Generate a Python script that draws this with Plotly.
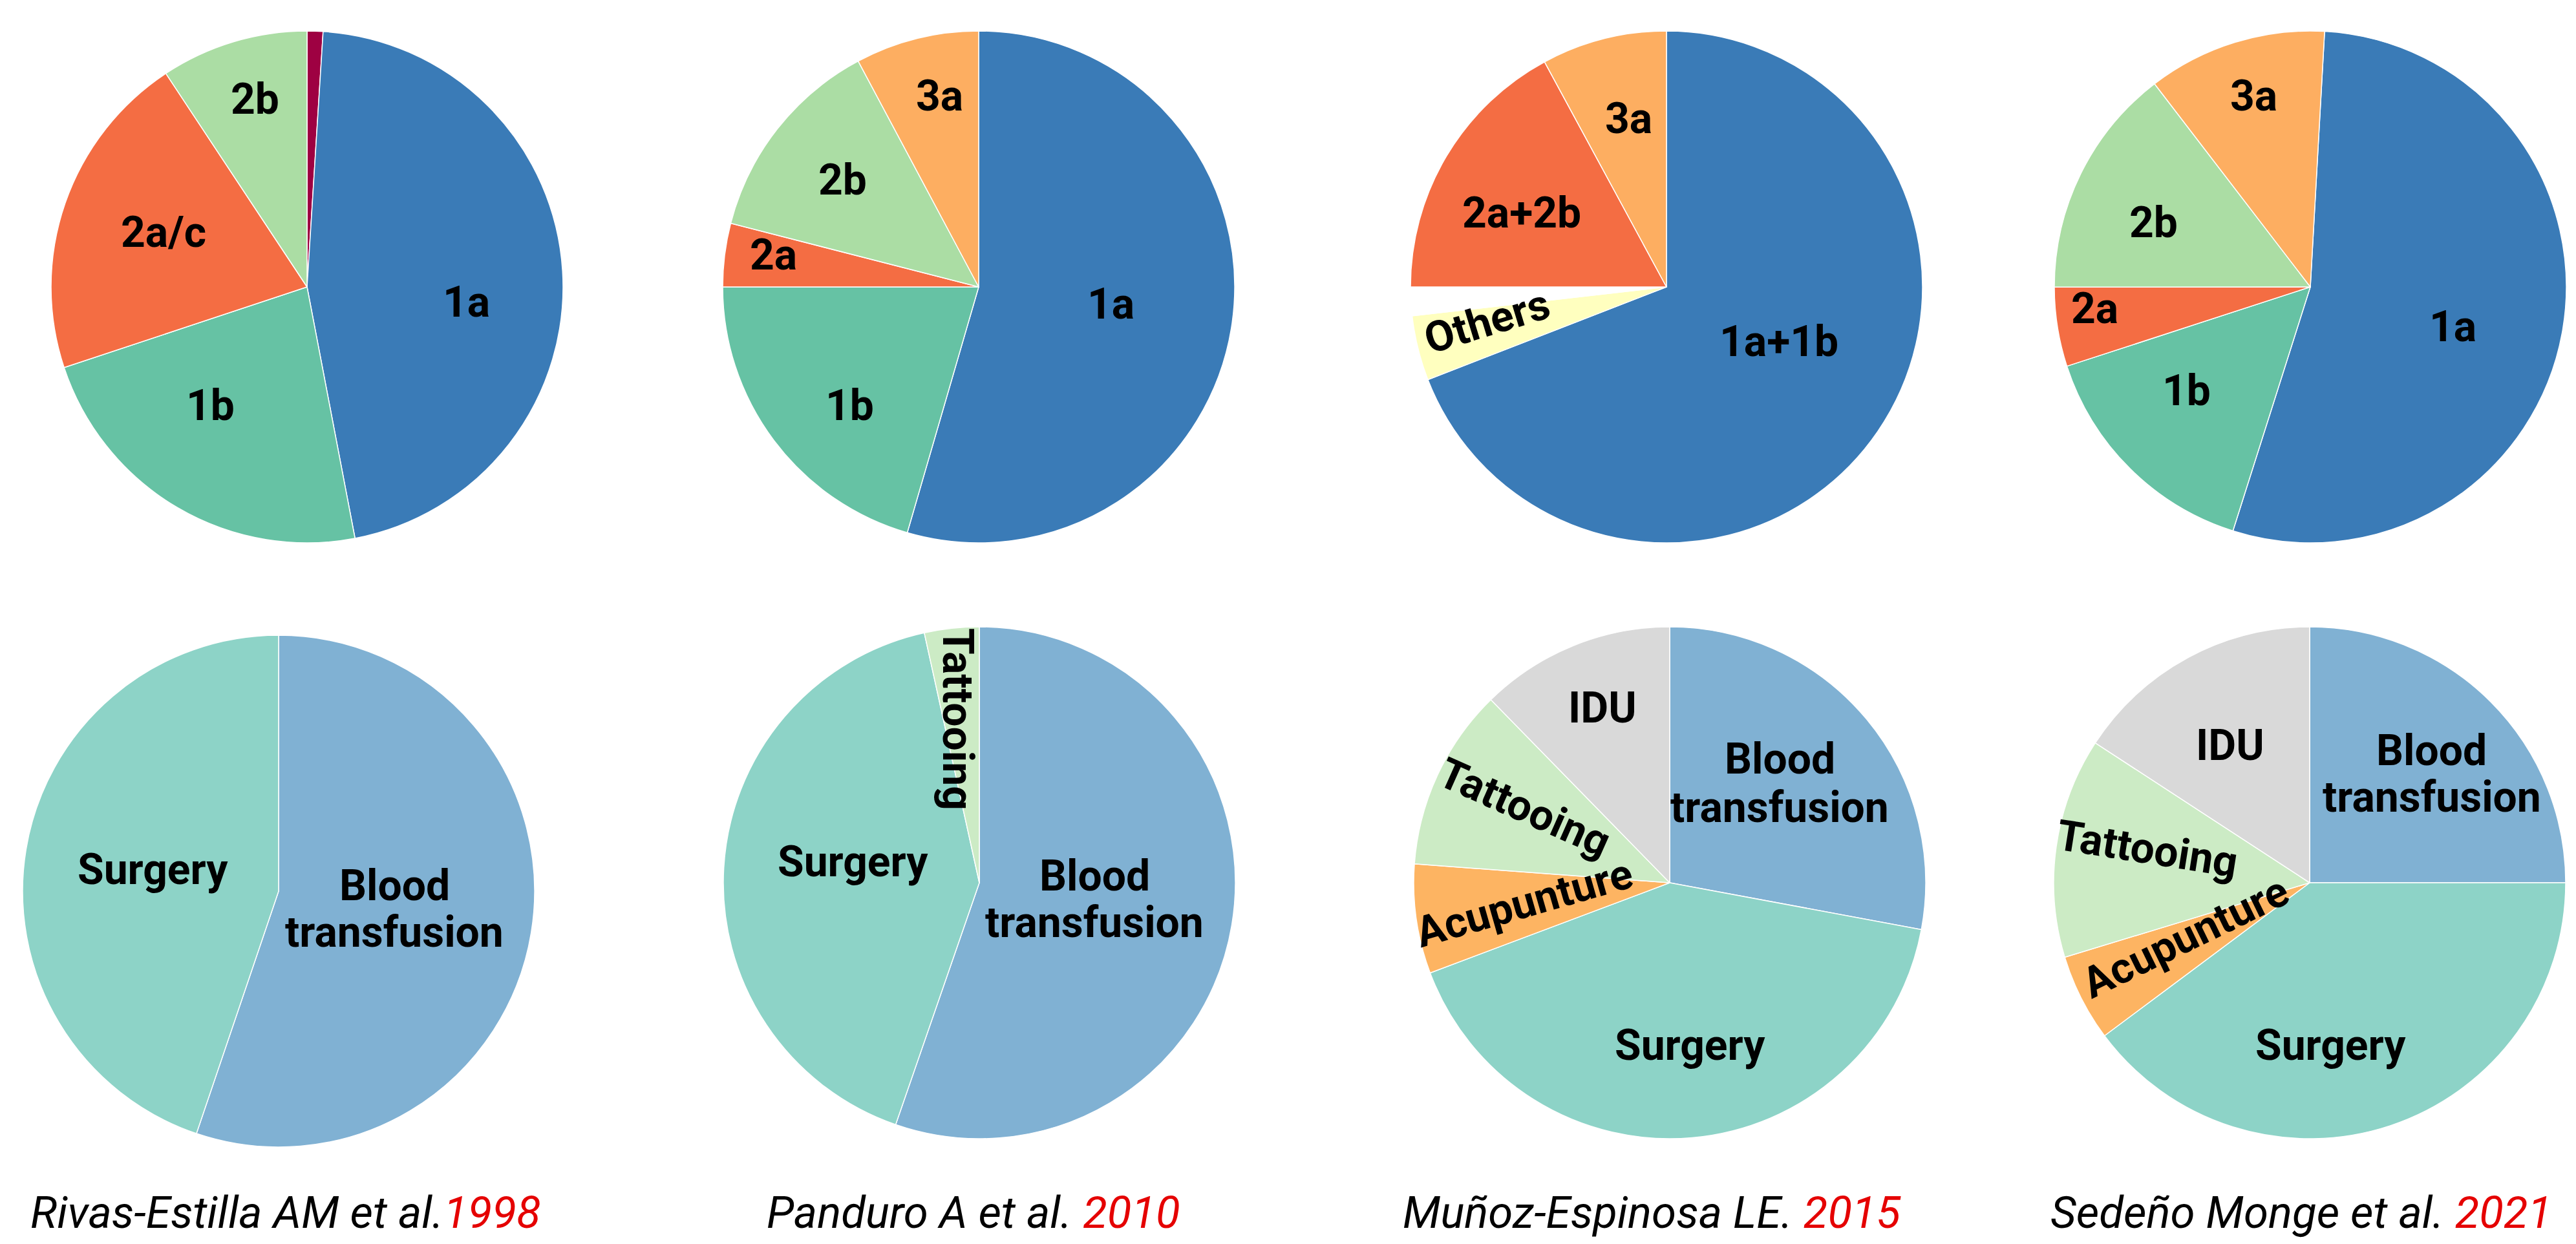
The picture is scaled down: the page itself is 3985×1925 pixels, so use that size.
import plotly.graph_objects as go

W, H = 3985, 1925

# ---------------- data (percent shares) ----------------
geno_labels_1998 = ["Other", "1a", "1b", "2a/c", "2b"]
geno_values_1998 = [1.0, 46.0, 22.9, 20.8, 9.3]

geno_labels_2010 = ["1a", "1b", "2a", "2b", "3a"]
geno_values_2010 = [54.5, 20.5, 4.0, 13.2, 7.8]

geno_labels_2015 = ["1a+1b", "Others", "Unassigned", "2a+2b", "3a"]
geno_values_2015 = [69.1, 4.1, 1.8, 17.1, 7.9]

geno_labels_2021 = ["1a", "1b", "2a", "2b", "3a"]
geno_values_2021 = [54.0, 15.1, 5.0, 14.6, 11.3]

risk_labels_1998 = ["Blood transfusion", "Surgery"]
risk_values_1998 = [55.2, 44.8]

risk_labels_2010 = ["Blood transfusion", "Surgery", "Tattooing"]
risk_values_2010 = [55.3, 41.25, 3.45]

risk_labels_2015 = ["Blood transfusion", "Surgery", "Acupunture", "Tattooing", "IDU"]
risk_values_2015 = [27.9, 41.3, 6.9, 11.5, 12.3]

risk_labels_2021 = ["Blood transfusion", "Surgery", "Acupunture", "Tattooing", "IDU"]
risk_values_2021 = [25.0, 39.8, 5.5, 13.9, 15.8]

study_names = ["Rivas-Estilla AM et al.", "Panduro A et al. ", "Muñoz-Espinosa LE. ", "Sedeño Monge et al. "]
study_years = ["1998", "2010", "2015", "2021"]

# ---------------- styles ----------------
geno_colors = {
    "Other": "#9e0142", "1a": "#3a7bb7", "1b": "#66c2a4", "2a/c": "#f46d43",
    "2a": "#f46d43", "2a+2b": "#f46d43", "2b": "#abdda4", "3a": "#fdae61",
    "Others": "#ffffbf", "1a+1b": "#3a7bb7", "Unassigned": "#ffffff",
}
risk_colors = {
    "Blood transfusion": "#80b1d3", "Surgery": "#8dd3c7", "Tattooing": "#ccebc5",
    "Acupunture": "#fdb462", "IDU": "#d9d9d9",
}

R = 396
pies = [
    # (labels, values, colors, center px, rotation)
    (geno_labels_1998, geno_values_1998, geno_colors, (467, 436), 0),
    (geno_labels_2010, geno_values_2010, geno_colors, (1506, 436), 0),
    (geno_labels_2015, geno_values_2015, geno_colors, (2570, 436), 0),
    (geno_labels_2021, geno_values_2021, geno_colors, (3566, 436), 3.2),
    (risk_labels_1998, risk_values_1998, risk_colors, (423, 1371), 0),
    (risk_labels_2010, risk_values_2010, risk_colors, (1507, 1358), 0),
    (risk_labels_2015, risk_values_2015, risk_colors, (2575, 1358), 0),
    (risk_labels_2021, risk_values_2021, risk_colors, (3565, 1358), 0),
]

fig = go.Figure()
for labels, values, cmap, (cx, cy), rot in pies:
    fig.add_trace(go.Pie(
        labels=labels, values=values, sort=False, direction="clockwise",
        rotation=rot, textinfo="none", hoverinfo="label+percent",
        marker=dict(colors=[cmap[l] for l in labels], line=dict(color="white", width=1.5)),
        domain=dict(x=[(cx - R) / W, (cx + R) / W], y=[1 - (cy + R) / H, 1 - (cy - R) / H]),
        showlegend=False,
    ))

# slice labels: (text, x px, y px, angle)
slice_text = [
    ("2b", 386, 155, 0), ("2a/c", 245, 362, 0), ("1a", 713, 470, 0), ("1b", 317, 629, 0),
    ("3a", 1445, 151, 0), ("2b", 1295, 280, 0), ("2a", 1188, 397, 0), ("1a", 1710, 472, 0), ("1b", 1306, 629, 0),
    ("3a", 2511, 185, 0), ("2a+2b", 2346, 332, 0), ("Others", 2292, 499, -17), ("1a+1b", 2744, 531, 0),
    ("3a", 3478, 151, 0), ("2b", 3323, 346, 0), ("2a", 3232, 480, 0), ("1b", 3374, 606, 0), ("1a", 3786, 508, 0),
    ("Surgery", 228, 1347, 0), ("Blood", 602, 1372, 0), ("transfusion", 602, 1444, 0),
    ("Tattooing", 1474, 1105, 90), ("Surgery", 1311, 1335, 0), ("Blood", 1685, 1357, 0), ("transfusion", 1685, 1429, 0),
    ("IDU", 2471, 1097, 0), ("Blood", 2745, 1176, 0), ("transfusion", 2745, 1251, 0),
    ("Tattooing", 2351, 1251, 24), ("Acupunture", 2349, 1399, -16), ("Surgery", 2606, 1619, 0),
    ("IDU", 3442, 1155, 0), ("Blood", 3753, 1163, 0), ("transfusion", 3754, 1235, 0),
    ("Tattooing", 3314, 1315, 9), ("Acupunture", 3372, 1452, -26), ("Surgery", 3597, 1619, 0),
]
LABEL_DY = -10  # text box centre vs. visual centre of the glyphs
annotations = []
for txt, x, y, ang in slice_text:
    annotations.append(dict(
        text=txt, x=x / W, y=1 - (y + (LABEL_DY if ang != 90 else 0)) / H,
        xref="paper", yref="paper",
        xanchor="center", yanchor="middle", showarrow=False, textangle=ang,
        font=dict(family="Roboto", size=66, color="black", weight="bold"),
    ))

caption_x = [434, 1498, 2548, 3552]
for name, year, x in zip(study_names, study_years, caption_x):
    annotations.append(dict(
        text=f"{name}<span style='color:#e50000'>{year}</span>",
        x=x / W, y=1 - 1868 / H, xref="paper", yref="paper",
        xanchor="center", yanchor="middle", showarrow=False,
        font=dict(family="Roboto", size=69, color="black", style="italic"),
    ))

fig.update_layout(
    width=W, height=H, margin=dict(l=0, r=0, t=0, b=0),
    paper_bgcolor="white", plot_bgcolor="white", annotations=annotations,
)
fig.write_html("out.html")
